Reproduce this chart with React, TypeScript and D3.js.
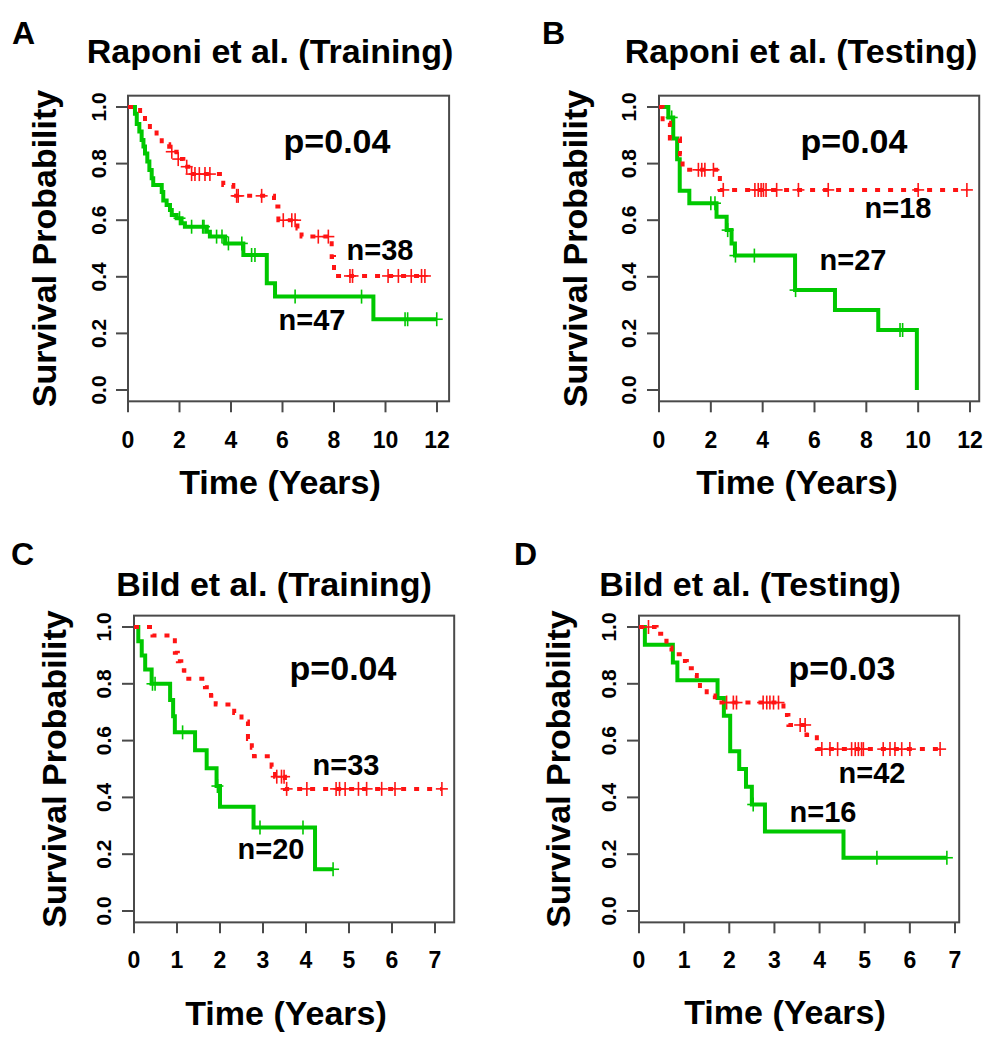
import React from "react";
import * as d3 from "d3";

// ---------- Data ----------
const panelLetters = ["A", "B", "C", "D"];
const panelTitles = [
  "Raponi et al. (Training)",
  "Raponi et al. (Testing)",
  "Bild et al. (Training)",
  "Bild et al. (Testing)",
];
const pLabels = ["p=0.04", "p=0.04", "p=0.04", "p=0.03"];
const redNLabels = ["n=38", "n=18", "n=33", "n=42"];
const greenNLabels = ["n=47", "n=27", "n=20", "n=16"];
const xTicksTop = [0, 2, 4, 6, 8, 10, 12];
const xTicksBottom = [0, 1, 2, 3, 4, 5, 6, 7];
const yTicks = [0, 0.2, 0.4, 0.6, 0.8, 1.0];
const xTitle = "Time (Years)";
const yTitle = "Survival Probability";

// Panel A
const aGreenT = [0.27, 0.34, 0.44, 0.53, 0.6, 0.66, 0.75, 0.83, 0.92, 0.98, 1.31, 1.37, 1.5, 1.63, 1.7, 1.89, 2.08, 2.21, 3.06, 3.18, 3.77, 4.48, 5.39, 5.71, 9.53];
const aGreenS = [0.976, 0.94, 0.913, 0.883, 0.86, 0.836, 0.807, 0.777, 0.748, 0.724, 0.7, 0.67, 0.654, 0.636, 0.618, 0.607, 0.589, 0.577, 0.559, 0.542, 0.518, 0.477, 0.377, 0.33, 0.25];
const aGreenC = [2.0, 2.47, 2.9, 2.95, 3.44, 3.65, 3.9, 4.42, 4.8, 4.93, 6.49, 9.07, 10.76, 10.86, 11.99];
const aRedT = [0.47, 0.66, 0.85, 1.11, 1.31, 1.6, 1.89, 2.15, 2.34, 3.7, 4.09, 5.67, 5.84, 6.58, 6.74, 7.91, 8.0];
const aRedS = [0.974, 0.947, 0.921, 0.895, 0.868, 0.842, 0.816, 0.789, 0.763, 0.724, 0.686, 0.648, 0.6, 0.571, 0.542, 0.47, 0.403];
const aRedC = [1.7, 1.95, 2.28, 2.47, 2.6, 2.77, 2.99, 3.18, 4.22, 4.28, 5.19, 6.03, 6.36, 6.49, 7.39, 7.78, 8.62, 8.72, 10.1, 10.5, 11.0, 11.4, 11.53];

// Panel B
const bGreenT = [0.36, 0.55, 0.7, 0.8, 1.17, 2.22, 2.61, 2.8, 2.93, 5.25, 6.79, 8.46, 9.95];
const bGreenS = [0.963, 0.889, 0.815, 0.704, 0.66, 0.612, 0.565, 0.518, 0.475, 0.353, 0.283, 0.212, 0.0];
const bGreenC = [0.49, 2.0, 2.16, 2.65, 2.95, 3.68, 5.27, 9.3, 9.4];
const bRedT = [0.14, 0.42, 0.81, 0.91, 2.35];
const bRedS = [0.944, 0.889, 0.833, 0.778, 0.707];
const bRedC = [1.52, 1.65, 1.77, 2.1, 2.48, 3.7, 3.83, 3.94, 4.03, 4.13, 4.54, 5.38, 6.53, 10.0, 11.88];

// Panel C
const cGreenT = [0.1, 0.18, 0.26, 0.41, 0.84, 0.91, 0.95, 1.42, 1.69, 1.92, 2.0, 2.78, 4.21];
const cGreenS = [0.95, 0.9, 0.85, 0.8, 0.743, 0.686, 0.629, 0.566, 0.503, 0.44, 0.367, 0.294, 0.147];
const cGreenC = [0.43, 0.49, 1.13, 1.94, 2.93, 3.93, 4.63];
const cRedT = [0.43, 0.95, 1.02, 1.1, 1.17, 1.65, 1.79, 1.9, 2.33, 2.5, 2.65, 2.74, 2.79, 3.2, 3.28, 3.51];
const cRedS = [0.97, 0.909, 0.879, 0.848, 0.818, 0.788, 0.758, 0.727, 0.697, 0.667, 0.606, 0.575, 0.545, 0.508, 0.473, 0.43];
const cRedC = [3.32, 3.43, 3.49, 3.55, 4.02, 4.7, 4.78, 4.91, 5.22, 5.41, 5.76, 6.07, 7.16];

// Panel D
const dGreenT = [0.13, 0.75, 0.85, 1.74, 1.88, 2.02, 2.22, 2.37, 2.5, 2.79, 4.53];
const dGreenS = [0.9375, 0.875, 0.8125, 0.75, 0.6875, 0.5625, 0.5, 0.4375, 0.375, 0.28, 0.1875];
const dGreenC = [2.53, 5.27, 6.82];
const dRedT = [0.39, 0.54, 0.61, 0.72, 0.95, 1.06, 1.17, 1.28, 1.35, 1.5, 1.68, 3.2, 3.31, 3.71, 3.94];
const dRedS = [0.976, 0.952, 0.928, 0.904, 0.88, 0.855, 0.831, 0.807, 0.783, 0.759, 0.734, 0.69, 0.655, 0.62, 0.57];
const dRedC = [0.21, 1.94, 2.09, 2.16, 2.75, 2.83, 2.9, 2.98, 3.09, 3.57, 3.68, 4.05, 4.23, 4.4, 4.71, 4.79, 4.86, 4.93, 4.97, 5.41, 5.56, 5.67, 5.82, 6.0, 6.67];

// ---------- Layout ----------
const FONT = "'Liberation Sans', Arial, Helvetica, sans-serif";
const GREEN = "#00c800";
const RED = "#ff1414";
const AXIS = "#4a4a4a";

type Layout = {
  xr: [number, number];
  xd: number;
  yr: [number, number];
  letter: [number, number];
  title: [number, number];
  yTitleX: number;
  yTickX: number;
  xTickY: number;
  xTitle: [number, number];
  p: [number, number];
  nRed: [number, number];
  nGreen: [number, number];
};

const layouts: Layout[] = [
  { xr: [128, 437], xd: 12, yr: [390, 107], letter: [12, 44], title: [270, 63], yTitleX: 56, yTickX: 106, xTickY: 448, xTitle: [280, 494], p: [337, 153], nRed: [380, 260], nGreen: [312, 330] },
  { xr: [659, 970], xd: 12, yr: [390, 107], letter: [542, 44], title: [801, 63], yTitleX: 587, yTickX: 636, xTickY: 448, xTitle: [797, 494], p: [854, 153], nRed: [898, 218], nGreen: [853, 270] },
  { xr: [134, 435], xd: 7, yr: [911, 627], letter: [11, 565], title: [274, 596], yTitleX: 66, yTickX: 111, xTickY: 968, xTitle: [286, 1025], p: [343, 680], nRed: [346, 775], nGreen: [271, 859] },
  { xr: [639, 955], xd: 7, yr: [911, 627], letter: [514, 565], title: [750, 596], yTitleX: 570, yTickX: 616, xTickY: 968, xTitle: [785, 1024], p: [842, 680], nRed: [872, 783], nGreen: [823, 822] },
];

const series = [
  { gT: aGreenT, gS: aGreenS, gC: aGreenC, rT: aRedT, rS: aRedS, rC: aRedC, ticks: xTicksTop },
  { gT: bGreenT, gS: bGreenS, gC: bGreenC, rT: bRedT, rS: bRedS, rC: bRedC, ticks: xTicksTop },
  { gT: cGreenT, gS: cGreenS, gC: cGreenC, rT: cRedT, rS: cRedS, rC: cRedC, ticks: xTicksBottom },
  { gT: dGreenT, gS: dGreenS, gC: dGreenC, rT: dRedT, rS: dRedS, rC: dRedC, ticks: xTicksBottom },
];

function survAt(T: number[], S: number[], t: number) {
  let s = 1;
  for (let i = 0; i < T.length; i++) if (T[i] <= t) s = S[i];
  return s;
}

function Panel({ i }: { i: number }) {
  const L = layouts[i];
  const d = series[i];
  const x = d3.scaleLinear().domain([0, L.xd]).range(L.xr);
  const y = d3.scaleLinear().domain([0, 1]).range(L.yr);
  const maxT = Math.max(...d.gT, ...d.gC, ...d.rT, ...d.rC);
  const left = x(0);
  const right = x(maxT * 1.04);
  const top = y(1.04);
  const bottom = y(-0.04);

  const line = d3
    .line<[number, number]>()
    .x((p) => x(p[0]))
    .y((p) => y(p[1]))
    .curve(d3.curveStepAfter);

  const mk = (T: number[], S: number[], C: number[]) => {
    const pts: [number, number][] = [[0, 1]];
    T.forEach((t, k) => pts.push([t, S[k]]));
    const end = Math.max(T[T.length - 1], ...C);
    pts.push([end, S[S.length - 1]]);
    return pts;
  };
  const gPts = mk(d.gT, d.gS, d.gC);
  const rPts = mk(d.rT, d.rS, d.rC);

  const cross = (t: number, s: number, color: string, key: string) => {
    const cx = x(t);
    const cy = y(s);
    return (
      <g key={key} stroke={color} strokeWidth={1.6}>
        <line x1={cx - 6} x2={cx + 6} y1={cy} y2={cy} />
        <line x1={cx} x2={cx} y1={cy - 7} y2={cy + 7} />
      </g>
    );
  };

  return (
    <g>
      <text x={L.letter[0]} y={L.letter[1]} fontFamily={FONT} fontWeight="bold" fontSize={32}>
        {panelLetters[i]}
      </text>
      <text x={L.title[0]} y={L.title[1]} textAnchor="middle" fontFamily={FONT} fontWeight="bold" fontSize={34}>
        {panelTitles[i]}
      </text>
      <rect x={left} y={top} width={right - left} height={bottom - top} fill="none" stroke={AXIS} strokeWidth={2} />
      {d.ticks.map((t) => (
        <g key={"xt" + t}>
          <line x1={x(t)} x2={x(t)} y1={bottom} y2={bottom + 11} stroke={AXIS} strokeWidth={2} />
          <text x={x(t)} y={L.xTickY} textAnchor="middle" fontFamily={FONT} fontWeight="bold" fontSize={23}>
            {t}
          </text>
        </g>
      ))}
      {yTicks.map((v) => (
        <g key={"yt" + v}>
          <line x1={left} x2={left - 12} y1={y(v)} y2={y(v)} stroke={AXIS} strokeWidth={2} />
          <text
            transform={`translate(${L.yTickX},${y(v)}) rotate(-90)`}
            textAnchor="middle"
            fontFamily={FONT}
            fontWeight="bold"
            fontSize={21}
          >
            {v.toFixed(1)}
          </text>
        </g>
      ))}
      <text
        transform={`translate(${L.yTitleX},${(top + bottom) / 2}) rotate(-90)`}
        textAnchor="middle"
        fontFamily={FONT}
        fontWeight="bold"
        fontSize={34}
      >
        {yTitle}
      </text>
      <text x={L.xTitle[0]} y={L.xTitle[1]} textAnchor="middle" fontFamily={FONT} fontWeight="bold" fontSize={34}>
        {xTitle}
      </text>
      <path d={line(gPts) || ""} fill="none" stroke={GREEN} strokeWidth={4} />
      {d.gC.map((t, k) => cross(t, survAt(d.gT, d.gS, t), GREEN, "gc" + k))}
      <path d={line(rPts) || ""} fill="none" stroke={RED} strokeWidth={4} strokeDasharray="5 8" />
      {d.rC.map((t, k) => cross(t, survAt(d.rT, d.rS, t), RED, "rc" + k))}
      <text x={L.p[0]} y={L.p[1]} textAnchor="middle" fontFamily={FONT} fontWeight="bold" fontSize={34}>
        {pLabels[i]}
      </text>
      <text x={L.nRed[0]} y={L.nRed[1]} textAnchor="middle" fontFamily={FONT} fontWeight="bold" fontSize={29}>
        {redNLabels[i]}
      </text>
      <text x={L.nGreen[0]} y={L.nGreen[1]} textAnchor="middle" fontFamily={FONT} fontWeight="bold" fontSize={29}>
        {greenNLabels[i]}
      </text>
    </g>
  );
}

export default function App() {
  return (
    <div style={{ position: "absolute", left: 0, top: 0 }}>
      <svg width={994} height={1050} style={{ display: "block", background: "#fff" }}>
        <rect x={0} y={0} width={994} height={1050} fill="#fff" />
        {[0, 1, 2, 3].map((i) => (
          <Panel key={i} i={i} />
        ))}
      </svg>
    </div>
  );
}
